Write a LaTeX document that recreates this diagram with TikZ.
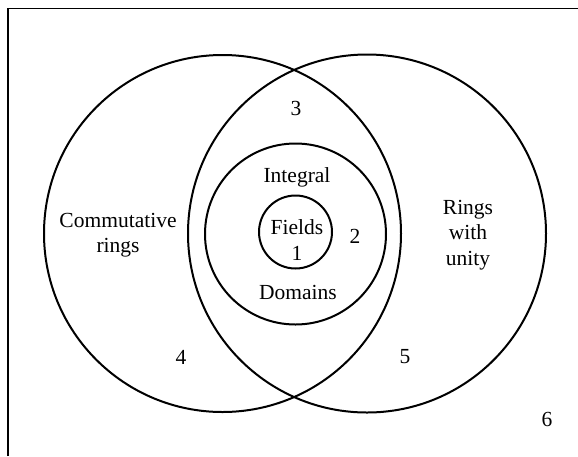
\documentclass[tikz,border=0pt]{standalone}
\usepackage{fontspec}
\setmainfont{Liberation Serif}
\begin{document}
\begin{tikzpicture}[x=1pt,y=-1pt,
  ring/.style={draw=black,line width=2pt,circle,inner sep=0pt},
  lbl/.style={font=\fontsize{21.5}{25.5}\selectfont,align=center,inner sep=0pt,text=black}]
\useasboundingbox (0,0) rectangle (578,456);
% frame (left and top edges)
\draw[line width=1.3pt] (8,456) -- (8,8.5) -- (578,8.5);
% circles
\node[ring,minimum size=357pt] (comm) at (222.5,233.5) {};
\node[ring,minimum size=358pt] (unity) at (367,233.5) {};
\node[ring,minimum size=181pt] (integ) at (295.5,234) {};
\node[ring,minimum size=73pt] (fields) at (295.5,232) {};
% labels
\node[lbl] (t3) at (296,108) {3};
\node[lbl] (tint) at (297,177) {Integral};
\node[lbl] (tfields) at (297,227) {Fields};
\node[lbl] (t1) at (297,253) {1};
\node[lbl] (t2) at (355,236) {2};
\node[lbl] (tdom) at (298,292) {Domains};
\node[lbl] (tcomm) at (118,235) {Commutative\\rings};
\node[lbl] (tunity) at (468,235) {Rings\\with\\unity};
\node[lbl] (t4) at (181,357) {4};
\node[lbl] (t5) at (405,357) {5};
\node[lbl] (t6) at (547,419) {6};
\end{tikzpicture}
\end{document}
